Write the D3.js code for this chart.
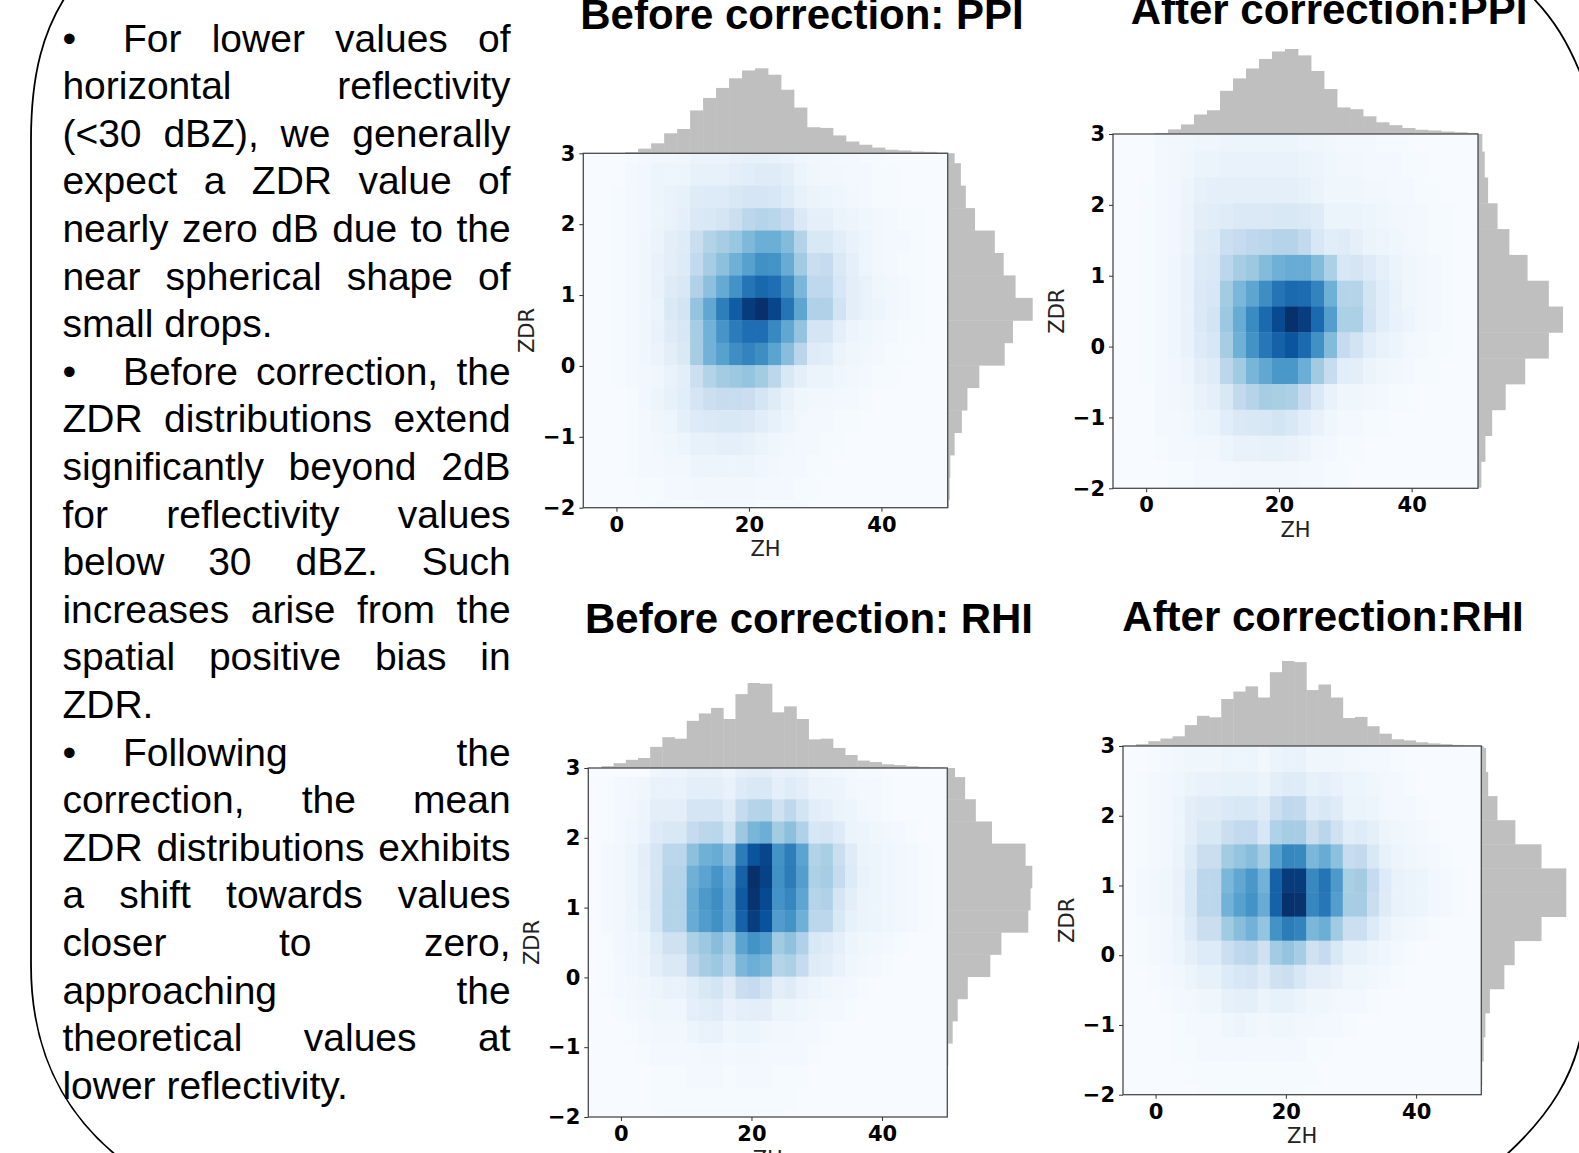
<!DOCTYPE html>
<html>
<head>
<meta charset="utf-8">
<script src="https://cdn.jsdelivr.net/npm/d3@7"></script>
<style>
  html, body { margin: 0; padding: 0; background: #ffffff; }
  svg { display: block; }
</style>
</head>
<body>
<svg id="fig" width="1579" height="1153"></svg>
<script>
// ---------------------------------------------------------------
// Axis ticks and titles
// ---------------------------------------------------------------
const zdrTicks = [-2, -1, 0, 1, 2, 3];
const zhTicks = [0, 20, 40];
const zhDomain = [-5, 50];
const zdrDomain = [-2, 3];
const panelTitles = ["Before correction: PPI", "After correction:PPI",
                     "Before correction: RHI", "After correction:RHI"];

// ---------------------------------------------------------------
// Histogram bins (first edge, bin width, count)
// ---------------------------------------------------------------
const ppiZhBins = [-4.56, 1.96, 28];
const rhiZhBins = [-4.85, 1.866, 30];
const beforePpiZdrBins = [-2.207, 0.3167, 17];
const afterPpiZdrBins = [-1.985, 0.3643, 14];
const beforeRhiZdrBins = [-2.213, 0.3177, 17];
const afterRhiZdrBins = [-2.21, 0.3455, 16];

// ---------------------------------------------------------------
// 2-D counts (percent of the densest cell); rows run from the
// highest ZDR bin down, columns from the lowest ZH bin up.
// ---------------------------------------------------------------
const beforePpiCounts = [
  [0,0,0,1,2,3,3,4,6,6,6,7,8,8,7,6,4,3,3,2,2,1,1,0,0,0,0,0],
  [0,0,0,2,3,5,5,5,8,8,8,10,11,12,12,10,6,4,3,3,2,2,1,1,0,0,0,0],
  [0,0,1,2,3,5,7,8,12,13,13,15,17,17,16,12,8,6,5,4,3,2,1,1,0,0,0,0],
  [0,0,1,2,3,5,7,9,14,15,17,22,28,30,29,25,14,9,9,6,5,4,3,2,1,1,0,0],
  [0,0,1,2,4,6,10,12,23,31,35,39,45,50,50,44,31,15,15,11,7,5,3,2,2,1,0,0],
  [0,0,1,2,4,7,10,13,26,35,42,49,56,63,62,51,37,23,25,14,9,5,3,2,1,1,0,0],
  [0,0,1,2,4,7,12,15,32,42,52,62,74,79,76,64,46,27,27,16,10,7,4,3,2,1,0,0],
  [0,0,1,2,4,6,14,18,40,53,70,83,96,100,92,74,54,32,32,19,10,7,5,3,2,1,0,0],
  [0,0,1,2,4,7,12,16,35,48,61,71,76,76,66,53,40,17,17,9,5,4,3,2,1,1,0,0],
  [0,0,1,2,4,6,10,14,35,48,56,64,68,64,55,43,29,12,11,6,4,3,2,1,1,0,0,0],
  [0,0,1,2,3,4,7,10,22,31,36,38,40,36,28,15,9,6,6,4,3,2,1,1,0,0,0,0],
  [0,0,0,1,3,5,8,11,17,22,24,24,23,17,12,7,4,3,3,2,2,1,0,0,0,0,0,0],
  [0,0,0,1,2,4,5,9,13,14,15,15,14,11,8,5,3,2,2,1,1,0,0,0,0,0,0,0],
  [0,0,0,1,2,3,4,5,8,8,9,9,8,6,4,3,2,2,1,1,0,0,0,0,0,0,0,0],
  [0,0,0,1,2,2,3,3,5,5,5,5,5,4,3,2,2,1,1,0,0,0,0,0,0,0,0,0],
  [0,0,0,0,1,1,2,2,3,3,3,3,3,2,2,2,1,1,0,0,0,0,0,0,0,0,0,0],
  [0,0,0,0,0,1,1,1,1,2,2,2,2,1,1,1,1,0,0,0,0,0,0,0,0,0,0,0]
];
const afterPpiCounts = [
  [0,0,0,2,3,3,4,4,5,5,5,5,5,5,4,4,3,2,2,2,1,1,1,0,0,0,0,0],
  [0,0,0,2,3,4,6,6,7,7,7,7,7,7,6,5,4,3,3,2,2,2,1,1,0,0,0,0],
  [0,0,1,2,3,5,8,9,9,9,9,9,9,9,8,6,4,4,4,3,3,2,2,1,1,0,0,0],
  [0,0,1,2,3,6,10,11,12,14,14,14,15,15,14,12,6,6,6,5,4,3,3,2,1,1,0,0],
  [0,0,1,2,3,6,12,13,22,25,27,28,30,30,26,16,11,12,9,6,5,4,3,2,1,1,0,0],
  [0,0,1,2,4,7,13,14,28,35,38,44,49,51,51,44,33,16,17,13,9,6,4,3,2,1,0,0],
  [0,0,1,2,4,7,14,16,36,46,54,64,74,78,77,68,49,30,30,18,11,7,4,3,2,1,0,0],
  [0,0,1,2,4,7,14,18,38,51,65,78,90,100,95,78,57,33,33,19,11,7,5,3,2,1,0,0],
  [0,0,1,2,4,7,13,16,35,49,62,73,81,86,78,63,44,25,19,11,7,5,3,2,1,1,0,0],
  [0,0,1,2,3,5,10,12,28,37,47,53,60,60,50,37,24,11,10,6,4,3,2,1,1,0,0,0],
  [0,0,0,2,3,4,7,9,15,26,30,35,34,33,25,14,7,4,4,3,2,1,1,0,0,0,0,0],
  [0,0,0,2,2,3,5,6,11,14,15,16,18,15,11,7,4,2,2,1,1,0,0,0,0,0,0,0],
  [0,0,0,1,2,2,3,3,5,7,7,8,8,7,5,3,2,1,1,0,0,0,0,0,0,0,0,0],
  [0,0,0,0,1,1,2,2,2,3,3,3,3,3,2,2,1,1,0,0,0,0,0,0,0,0,0,0]
];
const beforeRhiCounts = [
  [0,0,0,0,0,4,5,5,7,7,7,5,9,10,10,7,8,7,4,4,3,2,1,1,0,0,0,0,0,0],
  [0,1,2,3,4,7,7,7,10,10,10,7,13,15,15,9,12,10,6,6,5,3,2,2,1,0,0,0,0,0],
  [0,1,2,3,5,10,10,10,17,17,17,12,25,30,31,20,27,18,11,9,6,5,3,2,1,0,0,0,0,0],
  [0,1,2,4,6,13,15,15,25,28,29,18,38,47,50,36,42,32,16,17,13,6,5,4,3,2,1,0,0,0],
  [0,2,3,5,10,17,28,28,42,49,51,43,71,86,92,62,70,55,31,34,23,12,6,5,4,3,2,1,0,0],
  [0,2,3,5,9,17,30,30,49,55,61,51,81,100,93,63,71,57,33,35,25,13,7,5,4,3,2,1,0,0],
  [0,2,3,5,9,18,31,31,51,59,64,53,84,99,90,62,67,54,30,32,17,10,6,5,4,3,2,1,0,0],
  [0,2,3,5,8,18,31,31,51,58,63,53,81,95,87,58,62,49,28,28,15,8,6,5,4,3,2,1,0,0],
  [0,1,3,4,6,12,20,20,33,38,43,35,55,62,58,37,41,32,15,13,9,5,4,3,2,1,0,0,0,0],
  [0,1,2,4,5,10,14,14,28,35,38,30,46,50,47,30,33,25,12,11,7,4,3,2,1,0,0,0,0,0],
  [0,1,2,3,4,5,7,7,11,15,18,12,23,25,19,10,12,7,5,4,3,2,1,0,0,0,0,0,0,0],
  [0,0,1,2,3,4,4,4,9,11,12,7,9,10,10,5,5,4,3,2,2,1,0,0,0,0,0,0,0,0],
  [0,0,0,1,2,3,3,3,5,7,7,4,5,5,4,3,3,2,2,1,0,0,0,0,0,0,0,0,0,0],
  [0,0,0,0,1,2,2,2,2,3,3,2,3,3,2,2,2,2,1,0,0,0,0,0,0,0,0,0,0,0],
  [0,0,0,0,0,1,1,1,2,2,2,1,2,2,2,1,1,1,0,0,0,0,0,0,0,0,0,0,0,0],
  [0,0,0,0,0,1,1,1,1,1,1,1,1,1,1,1,1,0,0,0,0,0,0,0,0,0,0,0,0,0],
  [0,0,0,0,0,0,1,1,1,1,1,1,1,1,1,1,0,0,0,0,0,0,0,0,0,0,0,0,0,0]
];
const afterRhiCounts = [
  [0,0,0,1,2,3,3,3,4,4,4,3,5,6,6,3,3,3,2,2,1,1,0,0,0,0,0,0,0,0],
  [0,0,1,2,3,4,4,4,5,5,5,3,6,7,7,4,4,4,3,3,2,2,1,0,0,0,0,0,0,0],
  [0,1,2,3,4,6,7,7,8,8,8,6,10,12,12,8,9,7,5,5,4,3,2,1,0,0,0,0,0,0],
  [0,1,2,3,5,10,12,12,14,15,15,12,22,27,26,13,15,12,6,6,5,3,2,2,1,0,0,0,0,0],
  [0,1,2,3,5,10,15,15,23,26,26,16,32,35,35,23,29,20,11,12,9,5,4,3,2,1,0,0,0,0],
  [0,1,2,3,6,13,23,23,36,40,43,35,56,67,66,46,51,42,24,26,15,8,5,4,3,2,1,0,0,0],
  [0,2,3,4,7,15,28,28,46,53,60,48,81,96,96,66,74,59,34,36,25,13,7,6,5,3,2,1,0,0],
  [0,2,3,4,7,15,28,28,48,56,62,51,81,100,99,67,73,57,35,35,23,12,7,6,5,3,2,1,0,0],
  [0,1,2,3,6,13,23,23,37,43,48,40,62,71,68,46,50,37,22,22,13,7,4,3,2,1,0,0,0,0],
  [0,1,2,3,5,9,13,13,22,27,29,20,36,40,35,20,25,15,8,8,5,4,2,1,0,0,0,0,0,0],
  [0,0,1,2,3,5,8,8,13,16,17,12,20,22,16,10,10,7,4,4,3,2,1,0,0,0,0,0,0,0],
  [0,0,0,1,2,3,4,4,8,9,9,6,8,8,6,4,4,3,2,2,1,0,0,0,0,0,0,0,0,0],
  [0,0,0,0,1,2,2,2,4,5,4,3,4,4,3,3,2,2,1,0,0,0,0,0,0,0,0,0,0,0],
  [0,0,0,0,1,1,2,2,2,2,2,2,2,2,2,1,1,0,0,0,0,0,0,0,0,0,0,0,0,0],
  [0,0,0,0,0,1,1,1,1,1,1,1,1,1,1,1,0,0,0,0,0,0,0,0,0,0,0,0,0,0],
  [0,0,0,0,0,0,1,1,1,1,1,1,1,1,1,0,0,0,0,0,0,0,0,0,0,0,0,0,0,0]
];

// ---------------------------------------------------------------
// Marginal counts: ZH (low to high) and ZDR (high to low)
// ---------------------------------------------------------------
const beforePpiZh = [0,0,0,3,13,28,56,68,120,155,183,210,232,238,220,178,128,73,71,50,33,24,16,10,8,5,4,2];
const afterPpiZh  = [0,0,0,3,13,27,55,67,122,157,185,212,233,240,222,178,127,75,70,50,33,25,17,12,10,7,5,3];
const beforeRhiZh = [0,5,13,22,27,57,83,79,127,147,162,132,199,229,227,150,166,132,77,79,54,35,20,16,10,8,5,3,2,1];
const afterRhiZh  = [0,5,13,20,26,56,81,77,126,146,160,130,198,228,225,150,165,130,75,78,53,33,18,15,10,7,5,3,2,1];

const beforePpiZdr = [21,40,55,83,143,170,206,258,198,173,96,60,43,21,8,6,3];
const afterPpiZdr  = [13,20,30,58,93,147,210,252,210,140,82,42,22,10];
const beforeRhiZdr = [23,53,85,133,233,253,248,241,161,128,61,31,16,3,1,1,0];
const afterRhiZdr  = [7,14,20,47,99,175,247,247,175,97,67,25,12,7,3,2];

// ---------------------------------------------------------------
// Side text, one entry per printed line
// ---------------------------------------------------------------
const noteLines = [
  { bullet: true,  justify: true,  text: "For lower values of" },
  { bullet: false, justify: true,  text: "horizontal reflectivity" },
  { bullet: false, justify: true,  text: "(<30 dBZ), we generally" },
  { bullet: false, justify: true,  text: "expect a ZDR value of" },
  { bullet: false, justify: true,  text: "nearly zero dB due to the" },
  { bullet: false, justify: true,  text: "near spherical shape of" },
  { bullet: false, justify: false, text: "small drops." },
  { bullet: true,  justify: true,  text: "Before correction, the" },
  { bullet: false, justify: true,  text: "ZDR distributions extend" },
  { bullet: false, justify: true,  text: "significantly beyond 2dB" },
  { bullet: false, justify: true,  text: "for reflectivity values" },
  { bullet: false, justify: true,  text: "below 30 dBZ. Such" },
  { bullet: false, justify: true,  text: "increases arise from the" },
  { bullet: false, justify: true,  text: "spatial positive bias in" },
  { bullet: false, justify: false, text: "ZDR." },
  { bullet: true,  justify: true,  text: "Following the" },
  { bullet: false, justify: true,  text: "correction, the mean" },
  { bullet: false, justify: true,  text: "ZDR distributions exhibits" },
  { bullet: false, justify: true,  text: "a shift towards values" },
  { bullet: false, justify: true,  text: "closer to zero," },
  { bullet: false, justify: true,  text: "approaching the" },
  { bullet: false, justify: true,  text: "theoretical values at" },
  { bullet: false, justify: false, text: "lower reflectivity." }
];

// ---------------------------------------------------------------
// Panel wiring: data + where each joint plot sits on the page
// ---------------------------------------------------------------
const panels = [
  { key: "bppi", title: panelTitles[0], counts: beforePpiCounts, zhBins: ppiZhBins, zdrBins: beforePpiZdrBins,
    zhMarg: beforePpiZh, zdrMarg: beforePpiZdr,
    box: { x0: 583.3, x1: 947.7, y0: 153.3, y1: 507.7 }, titlePos: [802, 29] },
  { key: "appi", title: panelTitles[1], counts: afterPpiCounts, zhBins: ppiZhBins, zdrBins: afterPpiZdrBins,
    zhMarg: afterPpiZh, zdrMarg: afterPpiZdr,
    box: { x0: 1113, x1: 1478, y0: 134, y1: 488.3 }, titlePos: [1329, 24] },
  { key: "brhi", title: panelTitles[2], counts: beforeRhiCounts, zhBins: rhiZhBins, zdrBins: beforeRhiZdrBins,
    zhMarg: beforeRhiZh, zdrMarg: beforeRhiZdr,
    box: { x0: 588.3, x1: 947.3, y0: 768, y1: 1117 }, titlePos: [809, 633] },
  { key: "arhi", title: panelTitles[3], counts: afterRhiCounts, zhBins: rhiZhBins, zdrBins: afterRhiZdrBins,
    zhMarg: afterRhiZh, zdrMarg: afterRhiZdr,
    box: { x0: 1123, x1: 1481.3, y0: 746, y1: 1094.7 }, titlePos: [1323, 631] }
];

const svg = d3.select("#fig");
const defs = svg.append("defs");

// matplotlib-style "Blues": linear between the nine ColorBrewer stops
const blues = d3.scaleLinear()
  .domain(d3.range(9).map(i => i / 8))
  .range(d3.schemeBlues[9])
  .interpolate(d3.interpolateRgb)
  .clamp(true);

const margSize = 85;          // tallest marginal bar, px
const margGrey = "#bfbfbf";
const tickFont = "'DejaVu Sans', Verdana, sans-serif";
const textFont = "'Liberation Sans', Arial, Helvetica, sans-serif";

function drawPanel(p) {
  const b = p.box;
  const g = svg.append("g").attr("class", "panel-" + p.key);
  const x = d3.scaleLinear().domain(zhDomain).range([b.x0, b.x1]);
  const y = d3.scaleLinear().domain(zdrDomain).range([b.y1, b.y0]);

  const [zhStart, zhW, zhN] = p.zhBins;
  const [zdStart, zdW, zdN] = p.zdrBins;
  const vmax = d3.max(p.counts.flat());

  // clip regions
  defs.append("clipPath").attr("id", "box-" + p.key)
    .append("rect").attr("x", b.x0).attr("y", b.y0)
    .attr("width", b.x1 - b.x0).attr("height", b.y1 - b.y0);
  defs.append("clipPath").attr("id", "top-" + p.key)
    .append("rect").attr("x", b.x0).attr("y", b.y0 - 200)
    .attr("width", b.x1 - b.x0).attr("height", 200);
  defs.append("clipPath").attr("id", "right-" + p.key)
    .append("rect").attr("x", b.x1).attr("y", b.y0)
    .attr("width", 200).attr("height", b.y1 - b.y0);

  // joint 2-D histogram
  const cells = [];
  p.counts.forEach((row, r) => {
    const lo = zdStart + (zdN - 1 - r) * zdW;
    row.forEach((v, c) => {
      const zl = zhStart + c * zhW;
      cells.push({ zl, zh: zl + zhW, dl: lo, dh: lo + zdW, v });
    });
  });
  const heat = g.append("g").attr("clip-path", `url(#box-${p.key})`);
  heat.append("rect").attr("x", b.x0).attr("y", b.y0)
    .attr("width", b.x1 - b.x0).attr("height", b.y1 - b.y0)
    .attr("fill", blues(0));
  heat.selectAll("rect.cell").data(cells).join("rect")
    .attr("class", "cell")
    .attr("x", d => x(d.zl))
    .attr("width", d => x(d.zh) - x(d.zl) + 0.4)
    .attr("y", d => y(d.dh))
    .attr("height", d => y(d.dl) - y(d.dh) + 0.4)
    .attr("fill", d => blues(d.v / vmax));

  // marginal histograms
  const hTop = d3.scaleLinear().domain([0, d3.max(p.zhMarg)]).range([0, margSize]);
  g.append("g").attr("clip-path", `url(#top-${p.key})`)
    .selectAll("rect").data(p.zhMarg.map((v, i) => ({ v, lo: zhStart + i * zhW, hi: zhStart + (i + 1) * zhW })))
    .join("rect")
    .attr("x", d => x(d.lo))
    .attr("width", d => x(d.hi) - x(d.lo) + 0.4)
    .attr("y", d => b.y0 - hTop(d.v))
    .attr("height", d => hTop(d.v))
    .attr("fill", margGrey);

  const hRight = d3.scaleLinear().domain([0, d3.max(p.zdrMarg)]).range([0, margSize]);
  g.append("g").attr("clip-path", `url(#right-${p.key})`)
    .selectAll("rect").data(p.zdrMarg.map((v, r) => {
      const lo = zdStart + (zdN - 1 - r) * zdW;
      return { v, lo, hi: lo + zdW };
    }))
    .join("rect")
    .attr("x", b.x1)
    .attr("width", d => hRight(d.v))
    .attr("y", d => y(d.hi))
    .attr("height", d => y(d.lo) - y(d.hi) + 0.4)
    .attr("fill", margGrey);

  // frame
  g.append("rect").attr("x", b.x0).attr("y", b.y0)
    .attr("width", b.x1 - b.x0).attr("height", b.y1 - b.y0)
    .attr("fill", "none").attr("stroke", "#4a4a4a").attr("stroke-width", 1.3);

  // axes
  const fmt = d3.format("d");
  const ax = g.append("g").attr("transform", `translate(${b.x0},0)`)
    .call(d3.axisLeft(y).tickValues(zdrTicks).tickFormat(fmt).tickSize(4).tickPadding(4));
  const bx = g.append("g").attr("transform", `translate(0,${b.y1})`)
    .call(d3.axisBottom(x).tickValues(zhTicks).tickFormat(fmt).tickSize(4).tickPadding(5));
  [ax, bx].forEach(a => {
    a.select(".domain").remove();
    a.selectAll(".tick line").attr("stroke", "#333").attr("stroke-width", 1);
    a.selectAll(".tick text")
      .attr("fill", "#000")
      .style("font-family", tickFont)
      .style("font-weight", "bold")
      .style("font-size", "21px");
  });

  // axis titles
  g.append("text")
    .attr("x", (b.x0 + b.x1) / 2).attr("y", b.y1 + 48.5)
    .attr("text-anchor", "middle")
    .style("font-family", tickFont).style("font-size", "21px").attr("fill", "#222")
    .text("ZH");
  g.append("text")
    .attr("transform", `translate(${b.x0 - 49},${(b.y0 + b.y1) / 2}) rotate(-90)`)
    .attr("text-anchor", "middle")
    .style("font-family", tickFont).style("font-size", "21px").attr("fill", "#222")
    .text("ZDR");

  // panel title
  g.append("text")
    .attr("x", p.titlePos[0]).attr("y", p.titlePos[1])
    .attr("text-anchor", "middle")
    .style("font-family", textFont).style("font-weight", "bold").style("font-size", "42px")
    .attr("fill", "#000")
    .text(p.title);
}

panels.forEach(drawPanel);

// ---------------------------------------------------------------
// Justified note column on the left
// ---------------------------------------------------------------
const note = svg.append("g")
  .style("font-family", textFont).style("font-size", "39px").attr("fill", "#000");
const textLeft = 62.4, textRight = 510.6, bulletTextX = 123, firstBaseline = 51.5, lineStep = 47.6;
const probe = note.append("text").text("a a");
const probeA = note.append("text").text("aa");
const spaceW = probe.node().getComputedTextLength() - probeA.node().getComputedTextLength();
probe.remove(); probeA.remove();

noteLines.forEach((ln, i) => {
  const yb = firstBaseline + i * lineStep;
  const startX = ln.bullet ? bulletTextX : textLeft;
  if (ln.bullet) note.append("text").attr("x", textLeft).attr("y", yb).text("\u2022");
  const words = ln.text.split(" ").map(w => note.append("text").attr("y", yb).text(w));
  const widths = words.map(t => t.node().getComputedTextLength());
  const gap = (ln.justify && words.length > 1)
    ? (textRight - startX - d3.sum(widths)) / (words.length - 1)
    : spaceW;
  let xpos = startX;
  words.forEach((t, k) => { t.attr("x", xpos); xpos += widths[k] + gap; });
});

// ---------------------------------------------------------------
// Rounded outline around the slide content
// ---------------------------------------------------------------
const outline = svg.append("g").attr("fill", "none").attr("stroke", "#000").attr("stroke-width", 1.8);
outline.append("path").attr("d", "M64,-1 C45,30 31,70 31,140 L31,965 C31,1040 55,1105 117,1156");
outline.append("path").attr("d", "M1534,-1 C1552,18 1568,40 1585,85");
outline.append("path").attr("d", "M1583,1025 C1575,1075 1550,1115 1505,1156");
</script>
</body>
</html>
